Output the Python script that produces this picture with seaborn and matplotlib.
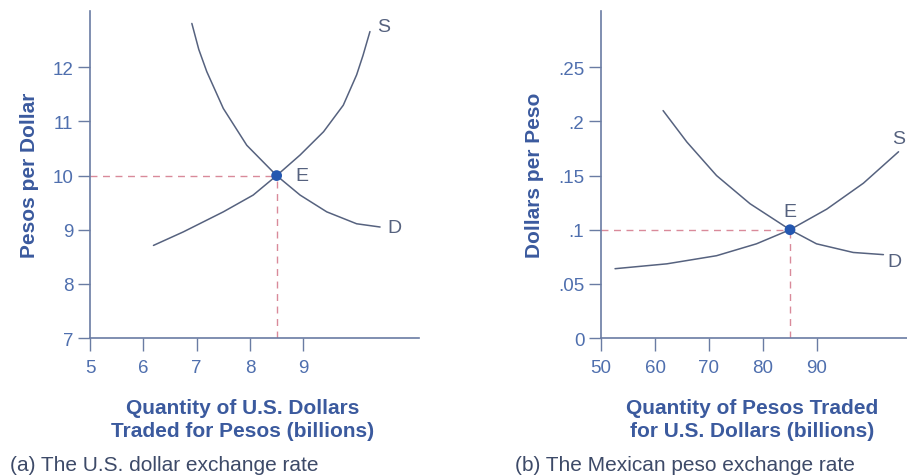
import matplotlib
matplotlib.use("Agg")
import matplotlib.pyplot as plt
import seaborn as sns
import pandas as pd

# ==========================================
# data
# ==========================================
# (a) U.S. dollar market
us_supply_q = [6.19, 6.75, 7.50, 8.06, 8.50, 8.94, 9.38, 9.75, 10.0, 10.12, 10.25]
us_supply_p = [8.71, 8.96, 9.33, 9.64, 10.0, 10.38, 10.81, 11.30, 11.86, 12.22, 12.66]
us_demand_q = [6.91, 7.04, 7.19, 7.50, 7.94, 8.50, 8.94, 9.44, 10.0, 10.44]
us_demand_p = [12.81, 12.33, 11.92, 11.24, 10.56, 10.0, 9.64, 9.33, 9.11, 9.05]
us_eq = (8.5, 10.0)
us_xticks = [5, 6, 7, 8, 9]
us_yticks = [7, 8, 9, 10, 11, 12]

# (b) Mexican peso market
mx_supply_q = [52.6, 62.2, 71.4, 78.8, 85.0, 91.8, 98.6, 105.1]
mx_supply_p = [0.064, 0.0685, 0.076, 0.087, 0.100, 0.119, 0.143, 0.172]
mx_demand_q = [61.5, 65.9, 71.4, 77.6, 85.0, 89.9, 96.7, 102.3]
mx_demand_p = [0.210, 0.181, 0.150, 0.124, 0.100, 0.087, 0.079, 0.077]
mx_eq = (85.0, 0.10)
mx_xticks = [50, 60, 70, 80, 90]
mx_yticks = [0, 0.05, 0.1, 0.15, 0.2, 0.25]
mx_yticklabels = ["0", ".05", ".1", ".15", ".2", ".25"]

# ==========================================
# style
# ==========================================
sns.set_style("ticks")
plt.rcParams['font.family'] = ['Liberation Sans', 'DejaVu Sans']

AXIS_C = "#6a7ca3"
TICK_C = "#4f6fae"
LABEL_C = "#3b5a9e"
CURVE_C = "#56627f"
DASH_C = "#d98a9a"
DOT_C = "#2457b0"
CAP_C = "#3d4a68"

fig = plt.figure(figsize=(9.07, 4.77), dpi=100)
ax1 = fig.add_axes([90 / 907, 138 / 477, 329 / 907, 327 / 477])
ax2 = fig.add_axes([601 / 907, 138 / 477, 324 / 907, 327 / 477])


def draw_market(ax, sq, sp, dq, dp, eq, xlim, ylim, xticks, yticks, yticklabels,
                ylabel, xlabel, s_lab, d_lab, e_lab):
    df_s = pd.DataFrame({"q": sq, "p": sp})
    df_d = pd.DataFrame({"q": dq, "p": dp})
    sns.lineplot(data=df_s, x="q", y="p", ax=ax, color=CURVE_C, lw=1.1, sort=False)
    sns.lineplot(data=df_d, x="q", y="p", ax=ax, color=CURVE_C, lw=1.1, sort=False)

    # dashed guides to the equilibrium
    ax.plot([xlim[0], eq[0]], [eq[1], eq[1]], ls=(0, (5, 4)), color=DASH_C, lw=1)
    ax.plot([eq[0], eq[0]], [ylim[0], eq[1]], ls=(0, (5, 4)), color=DASH_C, lw=1)
    sns.scatterplot(x=[eq[0]], y=[eq[1]], ax=ax, color=DOT_C, s=60, zorder=5,
                    edgecolor="none")

    ax.text(*s_lab[0], "S", color=CURVE_C, fontsize=14, ha=s_lab[1], va="center")
    ax.text(*d_lab[0], "D", color=CURVE_C, fontsize=14, ha="left", va="center")
    ax.text(*e_lab[0], "E", color=CURVE_C, fontsize=14, ha=e_lab[1], va=e_lab[2])

    ax.set_xlim(*xlim)
    ax.set_ylim(*ylim)
    ax.set_xticks(xticks)
    ax.set_xticklabels([str(t) for t in xticks])
    ax.set_yticks(yticks)
    ax.set_yticklabels(yticklabels)
    ax.tick_params(axis="both", colors=AXIS_C, labelcolor=TICK_C, labelsize=13.5,
                   length=9, width=1, direction="out", pad=3, bottom=True, left=True)
    ax.tick_params(axis="x", pad=6)
    for side in ["top", "right"]:
        ax.spines[side].set_visible(False)
    for side in ["left", "bottom"]:
        ax.spines[side].set_color(AXIS_C)
        ax.spines[side].set_linewidth(1.2)
    ax.set_ylabel(ylabel, color=LABEL_C, fontsize=15, fontweight="bold", labelpad=10)
    ax.set_xlabel(xlabel, color=LABEL_C, fontsize=15, fontweight="bold",
                  labelpad=14, linespacing=1.3)


draw_market(ax1, us_supply_q, us_supply_p, us_demand_q, us_demand_p, us_eq,
            (5, 11.17), (7, 13.04), us_xticks, us_yticks, [str(t) for t in us_yticks],
            "Pesos per Dollar", "Quantity of U.S. Dollars\nTraded for Pesos (billions)",
            [(10.38, 12.76), "left"], [(10.57, 9.05)], [(8.86, 10.0), "left", "center"])
ax1.xaxis.set_label_coords(0.465, -0.183)

draw_market(ax2, mx_supply_q, mx_supply_p, mx_demand_q, mx_demand_p, mx_eq,
            (50, 110), (0, 0.302), mx_xticks, mx_yticks, mx_yticklabels,
            "Dollars per Peso", "Quantity of Pesos Traded\nfor U.S. Dollars (billions)",
            [(106.4, 0.184), "right"], [(103.0, 0.071)], [(85.0, 0.109), "center", "bottom"])
ax2.xaxis.set_label_coords(0.465, -0.183)

fig.text(10 / 907, 1 - 466 / 477, "(a) The U.S. dollar exchange rate",
         color=CAP_C, fontsize=15, ha="left", va="center")
fig.text(515 / 907, 1 - 466 / 477, "(b) The Mexican peso exchange rate",
         color=CAP_C, fontsize=15, ha="left", va="center")

fig.savefig("out.png", dpi=100)
